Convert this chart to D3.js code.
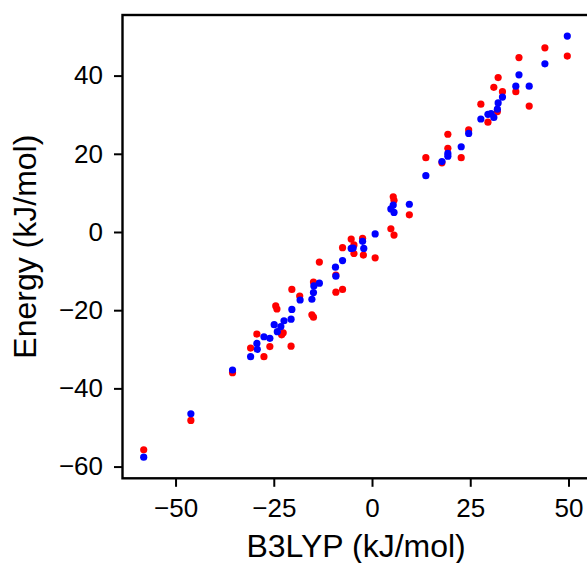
<!DOCTYPE html>
<html>
<head>
<meta charset="utf-8">
<script src="https://cdn.jsdelivr.net/npm/d3@7"></script>
<style>
  body { margin: 0; background: #fff; }
  svg { display: block; font-family: "Liberation Sans", Arial, sans-serif; }
</style>
</head>
<body>
<script>
// data (B3LYP x, energy y)
const redX = [-58.1, -46.1, -35.5, -30.9, -29.3, -27.5, -26.0, -24.5, -24.2, -23.0, -22.6, -20.6, -20.4, -18.4, -15.3, -14.9, -14.9, -13.4, -9.2, -7.5, -9.2, -7.5, -5.3, -4.6, -4.6, -2.4, -2.2, 0.8, 4.8, 5.6, 5.4, 5.6, 9.5, 13.7, 17.8, 19.3, 19.3, 22.7, 24.6, 27.7, 29.5, 31.9, 31.0, 32.1, 33.2, 36.6, 37.4, 40.0, 44.0, 49.7];
const redY = [-55.7, -48.2, -36.0, -29.7, -26.1, -31.9, -29.3, -18.9, -19.7, -26.3, -25.8, -29.2, -14.7, -16.4, -21.2, -21.8, -12.8, -7.7, -11.0, -14.7, -15.4, -4.0, -1.8, -3.3, -5.5, -1.6, -5.9, -6.6, 0.8, -0.8, 9.0, 8.1, 4.4, 19.0, 17.7, 21.4, 25.0, 19.0, 26.1, 32.7, 28.1, 30.8, 37.0, 39.5, 35.9, 35.9, 44.6, 32.2, 47.1, 45.0];
// ***
const blueX = [-58.1, -46.1, -35.5, -30.9, -29.3, -29.2, -27.5, -26.0, -24.9, -24.1, -23.2, -22.4, -20.6, -20.4, -18.3, -15.3, -14.9, -14.8, -13.4, -9.2, -9.3, -7.5, -5.3, -4.8, -2.4, -2.1, 0.8, 5.4, 4.8, 5.6, 9.5, 13.7, 17.8, 19.3, 19.3, 22.7, 24.6, 27.7, 29.5, 30.3, 31.0, 31.9, 32.1, 33.2, 36.6, 37.4, 40.0, 44.0, 49.7];
const blueY = [-57.6, -46.5, -35.3, -31.9, -28.5, -30.0, -26.8, -27.2, -23.7, -25.5, -24.2, -22.7, -22.3, -19.8, -17.4, -17.2, -15.5, -13.8, -13.1, -11.3, -9.0, -7.3, -4.2, -4.1, -2.4, -4.2, -0.5, 6.9, 5.9, 5.0, 7.1, 14.4, 18.0, 20.1, 19.4, 21.8, 25.2, 28.9, 30.1, 30.3, 29.3, 31.4, 33.0, 34.5, 37.3, 40.2, 37.3, 43.0, 50.1];
// ***
const xTicks = [-50, -25, 0, 25, 50];
const yTicks = [-60, -40, -20, 0, 20, 40];
const xDomain = [-63.5, 55.4];
const yDomain = [-63.0, 55.5];
// ----------

const w = 587;
const h = 563;
const p = { t: 15, l: 122.5, b: 478.3, r: 589.7 };
const redCol = "#ff0000";
const blueCol = "#0000ff";
// ----------

const svg = d3
  .select("body")
  .append("svg")
  .attr("width", w)
  .attr("height", h);

// scales
const xScale = d3.scaleLinear().domain(xDomain).range([p.l, p.r]);
const yScale = d3.scaleLinear().domain(yDomain).range([p.b, p.t]);
// ----------

// axes
const xAxis = svg
  .append("g")
  .attr("transform", `translate(0, ${p.b})`)
  .call(
    d3.axisBottom(xScale).tickValues(xTicks).tickSize(8.5).tickPadding(12).tickSizeOuter(0)
  );

const yAxis = svg
  .append("g")
  .attr("transform", `translate(${p.l}, 0)`)
  .call(
    d3.axisLeft(yScale).tickValues(yTicks).tickSize(8.5).tickPadding(11).tickSizeOuter(0)
  );

[xAxis, yAxis].forEach((ax) => {
  ax.select(".domain").remove();
  ax.selectAll(".tick line").attr("stroke", "#000").attr("stroke-width", 2);
  ax.selectAll(".tick text")
    .attr("fill", "#000")
    .style("font-size", "26px")
    .style("font-family", '"Liberation Sans", Arial, sans-serif');
});
// ----------

// frame (right side falls off the canvas)
svg
  .append("rect")
  .attr("x", p.l)
  .attr("y", p.t)
  .attr("width", p.r - p.l)
  .attr("height", p.b - p.t)
  .attr("fill", "none")
  .attr("stroke", "#000")
  .attr("stroke-width", 2.4);
// ----------

// points, red first then blue on top
const drawDots = (xs, ys, col) => {
  svg
    .append("g")
    .selectAll("circle")
    .data(xs.map((x, i) => [x, ys[i]]))
    .enter()
    .append("circle")
    .attr("cx", (d) => xScale(d[0]))
    .attr("cy", (d) => yScale(d[1]))
    .attr("r", 3.6)
    .attr("fill", col);
}; // END drawDots func

drawDots(redX, redY, redCol);
drawDots(blueX, blueY, blueCol);
// ----------

// axis labels
svg
  .append("text")
  .text("B3LYP (kJ/mol)")
  .attr("x", (p.l + p.r) / 2)
  .attr("y", 557)
  .attr("text-anchor", "middle")
  .style("font-size", "32px");

svg
  .append("text")
  .text("Energy (kJ/mol)")
  .attr("transform", `translate(36, ${(p.t + p.b) / 2}) rotate(-90)`)
  .attr("text-anchor", "middle")
  .style("font-size", "32px");
// ----------
</script>
</body>
</html>
